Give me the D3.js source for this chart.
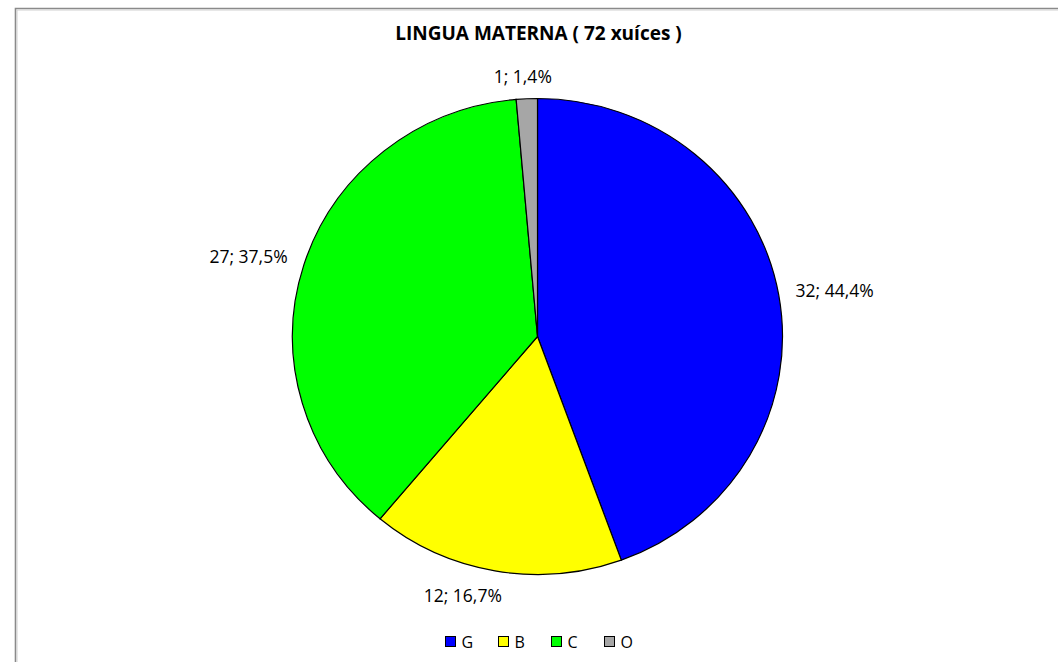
<!DOCTYPE html>
<html><head><meta charset="utf-8">
<script src="https://cdn.jsdelivr.net/npm/d3@7/dist/d3.min.js"></script>
<style>html,body{margin:0;padding:0;background:#fff;}svg{display:block;}</style>
</head><body>
<svg id="c" width="1058" height="662"></svg>
<script>
const categories = ["G", "B", "C", "O"];
const values = [32, 12, 27, 1];
const colors = ["#0000ff", "#ffff00", "#00ff00", "#a6a6a6"];
const title = "LINGUA MATERNA ( 72 xuíces )";

const total = d3.sum(values);
const fmtPct = v => (Math.round(v * 1000) / 10).toFixed(1).replace(".", ",") + "%";

const svg = d3.select("#c");
const font = "'Open Sans', 'Noto Sans', sans-serif";

// frame
svg.append("path").attr("d", "M15.5,670 L15.5,8.5 L1070,8.5")
  .attr("fill", "none").attr("stroke", "#8a8a8a").attr("stroke-width", 1.6);
svg.append("path").attr("d", "M17,670 L17,10 L1070,10")
  .attr("fill", "none").attr("stroke", "#d0d0d0").attr("stroke-width", 1);

svg.append("text").attr("x", 538.5).attr("y", 40).attr("text-anchor", "middle")
  .attr("font-family", font).attr("font-weight", "bold").attr("font-size", 19)
  .attr("fill", "#000").text(title);

const cx = 537.5, cy = 336.5, rx = 245, ry = 238;
const pie = d3.pie().sort(null).value(d => d)(values);
const arc = d3.arc().innerRadius(0).outerRadius(rx);

const g = svg.append("g").attr("transform", `translate(${cx},${cy}) scale(1,${ry / rx})`);
g.selectAll("path").data(pie).join("path")
  .attr("d", arc).attr("fill", (d, i) => colors[i])
  .attr("stroke", "#000").attr("stroke-width", 1.2)
  .attr("vector-effect", "non-scaling-stroke");

// labels
const lab = svg.append("g");
pie.forEach((d, i) => {
  const a = (d.startAngle + d.endAngle) / 2;
  const dx = Math.sin(a), dy = -Math.cos(a);
  const ex = cx + rx * dx, ey = cy + ry * dy;
  const t = lab.append("text").attr("font-family", font).attr("font-size", 17.5)
    .attr("fill", "#000").attr("text-anchor", "middle")
    .text(`${values[i]}; ${fmtPct(values[i] / total)}`);
  const bb = t.node().getBBox();
  const w = bb.width, h = 16;
  const gap = 17;
  let lx = ex + dx * gap + Math.sign(dx) * (w / 2) * Math.min(1, Math.abs(dx) * 1.8);
  let ly = ey + dy * gap + (h / 2) * dy;
  if (Math.abs(dx) < 0.3 && dy > 0) lx -= 17;
  if (Math.abs(dx) < 0.3 && dy < 0) { lx -= 1; ly += 3; }
  t.attr("x", lx).attr("y", ly + 6);
});

// legend
const leg = svg.append("g");
const lx0 = 445.5, ly0 = 636.5, step = 53;
categories.forEach((c, i) => {
  leg.append("rect").attr("x", lx0 + i * step).attr("y", ly0).attr("width", 10).attr("height", 10)
    .attr("fill", colors[i]).attr("stroke", "#000").attr("stroke-width", 1);
  leg.append("text").attr("x", lx0 + i * step + 16).attr("y", ly0 + 11)
    .attr("font-family", font).attr("font-size", 16).attr("fill", "#000").text(c);
});
</script>
</body></html>
